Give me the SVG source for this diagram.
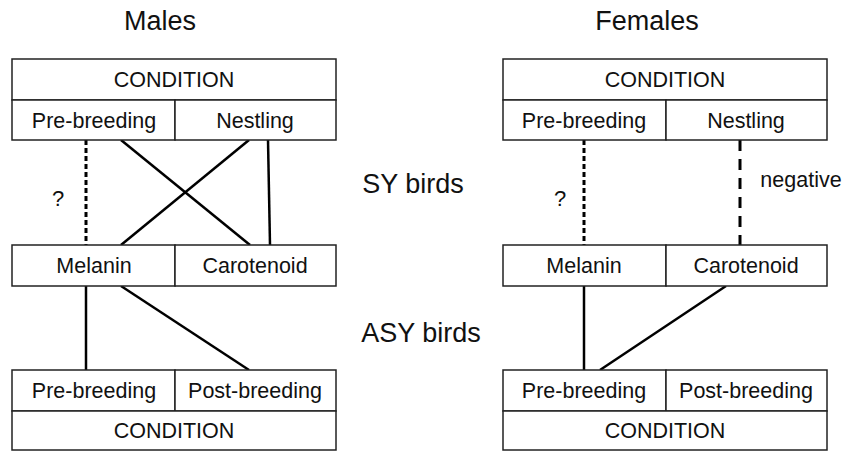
<svg xmlns="http://www.w3.org/2000/svg" width="845" height="451" viewBox="0 0 845 451">
<style>
text{font-family:"Liberation Sans",Arial,sans-serif;fill:#111;text-anchor:middle}
.t{font-size:27px}
.b{font-size:21.5px}
.s{font-size:22px}
.box{fill:#fff;stroke:#222;stroke-width:1.5}
.c{stroke:#000;stroke-width:2.5;fill:none}
.d1{stroke-dasharray:5 3;stroke-width:3}
.d2{stroke-dasharray:11 8;stroke-width:3}
</style>
<rect width="845" height="451" fill="#fff"/>
<text class="t" x="160" y="30">Males</text>
<text class="t" x="647" y="30">Females</text>
<text class="t" x="413" y="193" id="sy">SY birds</text>
<text class="t" x="421" y="342" id="asy">ASY birds</text>
<g id="connectors">
<line class="c d1" x1="86" y1="140" x2="86" y2="245"/>
<line class="c" x1="121" y1="140" x2="250" y2="245"/>
<line class="c" x1="249" y1="140" x2="121" y2="245"/>
<line class="c" x1="268" y1="140" x2="270" y2="245"/>
<line class="c" x1="86" y1="286" x2="86" y2="370"/>
<line class="c" x1="121" y1="286" x2="249" y2="370"/>
<line class="c d1" x1="584" y1="140" x2="584" y2="245"/>
<line class="c d2" x1="740" y1="140" x2="740" y2="245"/>
<line class="c" x1="584" y1="286" x2="584" y2="370"/>
<line class="c" x1="726" y1="286" x2="600" y2="370"/>
</g>
<text class="s" x="58" y="206">?</text>
<text class="s" x="560" y="206">?</text>
<text class="b" x="801" y="187">negative</text>
<g id="m-cond-top">
<rect class="box" x="12" y="59" width="324" height="41"/>
<text class="b" x="174" y="87">CONDITION</text>
</g>
<g id="m-prebreed-top">
<rect class="box" x="12" y="100" width="163" height="40"/>
<text class="b" x="94" y="127.5">Pre-breeding</text>
</g>
<g id="m-nestling">
<rect class="box" x="175" y="100" width="161" height="40"/>
<text class="b" x="255" y="127.5">Nestling</text>
</g>
<g id="m-melanin">
<rect class="box" x="12" y="245" width="163" height="41"/>
<text class="b" x="94" y="273">Melanin</text>
</g>
<g id="m-carotenoid">
<rect class="box" x="175" y="245" width="161" height="41"/>
<text class="b" x="255" y="273">Carotenoid</text>
</g>
<g id="m-prebreed-bot">
<rect class="box" x="12" y="370" width="163" height="41"/>
<text class="b" x="94" y="398">Pre-breeding</text>
</g>
<g id="m-postbreed">
<rect class="box" x="175" y="370" width="161" height="41"/>
<text class="b" x="255" y="398">Post-breeding</text>
</g>
<g id="m-cond-bot">
<rect class="box" x="12" y="411" width="324" height="39"/>
<text class="b" x="174" y="438">CONDITION</text>
</g>
<g id="f-cond-top">
<rect class="box" x="503" y="59" width="324" height="41"/>
<text class="b" x="665" y="87">CONDITION</text>
</g>
<g id="f-prebreed-top">
<rect class="box" x="503" y="100" width="163" height="40"/>
<text class="b" x="584" y="127.5">Pre-breeding</text>
</g>
<g id="f-nestling">
<rect class="box" x="666" y="100" width="161" height="40"/>
<text class="b" x="746" y="127.5">Nestling</text>
</g>
<g id="f-melanin">
<rect class="box" x="503" y="245" width="163" height="41"/>
<text class="b" x="584" y="273">Melanin</text>
</g>
<g id="f-carotenoid">
<rect class="box" x="666" y="245" width="161" height="41"/>
<text class="b" x="746" y="273">Carotenoid</text>
</g>
<g id="f-prebreed-bot">
<rect class="box" x="503" y="370" width="163" height="41"/>
<text class="b" x="584" y="398">Pre-breeding</text>
</g>
<g id="f-postbreed">
<rect class="box" x="666" y="370" width="161" height="41"/>
<text class="b" x="746" y="398">Post-breeding</text>
</g>
<g id="f-cond-bot">
<rect class="box" x="503" y="411" width="324" height="39"/>
<text class="b" x="665" y="438">CONDITION</text>
</g>
</svg>
